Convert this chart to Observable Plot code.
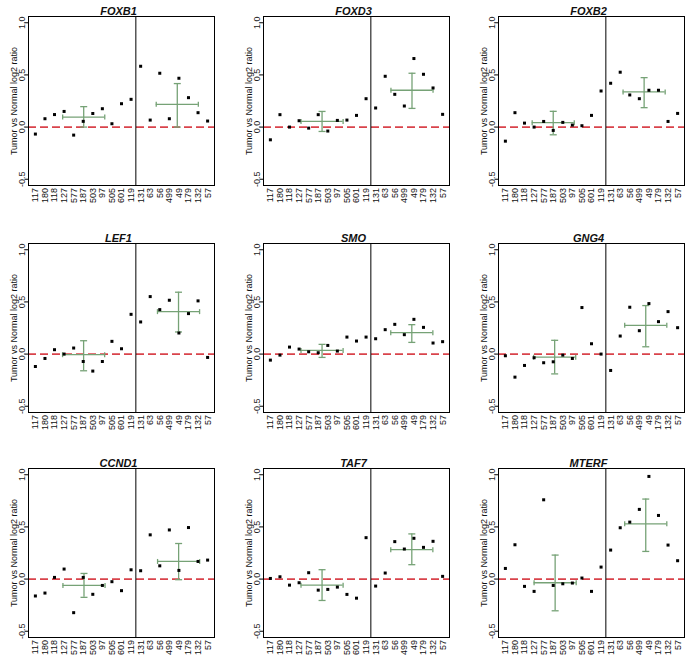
<!DOCTYPE html>
<html><head><meta charset="utf-8">
<script src="https://cdn.jsdelivr.net/npm/d3@7"></script>
<script src="https://cdn.jsdelivr.net/npm/@observablehq/plot@0.6"></script>
<style>
body{margin:0;background:#fff}
#root{position:relative;width:685px;height:661px;overflow:hidden}
.panel{position:absolute}
.panel svg{overflow:visible}
</style>
</head><body><div id="root"></div>
<script>
const samples = ["117","180","118","127","577","187","503","97","505","601","119","131","63","56","499","49","179","132","57"];
const genes = ["FOXB1","FOXD3","FOXB2","LEF1","SMO","GNG4","CCND1","TAF7","MTERF"];
const yTicks = [-0.5, 0, 0.5, 1.0];
const yTickLabels = ["-0.5", "0.0", "0.5", "1.0"];
const yTitle = "Tumor vs Normal log2 ratio";
const groupSplit = [11.5];

const FOXB1 = [-0.067,0.08,0.12,0.15,-0.077,0.055,0.13,0.176,0.032,0.224,0.266, 0.583,0.067,0.516,0.08,0.468,0.282,0.138,0.058];
const FOXD3 = [-0.122,0.119,0.0,0.061,-0.01,0.119,-0.038,0.064,0.067,0.112,0.272, 0.183,0.487,0.314,0.202,0.657,0.506,0.375,0.122];
const FOXB2 = [-0.135,0.138,0.038,0.0,0.054,-0.032,0.045,0.019,0.013,0.112,0.346, 0.42,0.526,0.308,0.272,0.353,0.353,0.054,0.131];
const LEF1 = [-0.119,-0.042,0.042,0.0,0.058,-0.071,-0.163,-0.071,0.122,0.051,0.381, 0.308,0.551,0.426,0.516,0.202,0.388,0.51,-0.032];
const SMO = [-0.058,-0.01,0.067,0.048,0.022,0.013,0.083,0.029,0.163,0.125,0.163, 0.147,0.234,0.285,0.186,0.333,0.256,0.106,0.119];
const GNG4 = [-0.016,-0.221,-0.109,-0.035,-0.083,-0.074,-0.01,-0.042,0.446,0.099,0.0, -0.157,0.173,0.449,0.224,0.484,0.311,0.407,0.253];
const CCND1 = [-0.162,-0.134,0.016,0.096,-0.322,0.016,-0.146,-0.061,-0.025,-0.111,0.089, 0.08,0.424,0.127,0.471,0.083,0.494,0.169,0.182];
const TAF7 = [0.006,0.022,-0.058,-0.035,0.061,-0.106,-0.099,-0.077,-0.147,-0.183,0.397, -0.067,0.058,0.359,0.288,0.391,0.304,0.362,0.026];
const MTERF = [0.102,0.329,-0.07,-0.118,0.76,-0.061,-0.045,-0.038,0.01,-0.118,0.115, 0.278,0.492,0.546,0.668,0.984,0.61,0.326,0.176];
const geneValues = [FOXB1, FOXD3, FOXB2, LEF1, SMO, GNG4, CCND1, TAF7, MTERF];

// summary bars, gene order as in genes
const normalMid = [0.096, 0.054, 0.042, -0.006, 0.035, -0.03, -0.061, -0.058, -0.035];
const normalLo  = [0.0, -0.042, -0.074, -0.16, -0.032, -0.19, -0.175, -0.205, -0.304];
const normalHi  = [0.196, 0.15, 0.151, 0.128, 0.093, 0.132, 0.054, 0.09, 0.23];
const tumorMid  = [0.218, 0.353, 0.337, 0.407, 0.205, 0.276, 0.169, 0.282, 0.53];
const tumorLo   = [0.0, 0.179, 0.186, 0.212, 0.112, 0.07, -0.006, 0.138, 0.265];
const tumorHi   = [0.417, 0.516, 0.474, 0.593, 0.282, 0.465, 0.341, 0.433, 0.767];
const normalBarX = [6.05, 6.4, 6.0, 6.04, 6.4, 6.15, 6.08, 6.4, 6.2];
const tumorBarX  = [15.83, 15.8, 15.5, 15.96, 15.78, 15.67, 15.97, 15.78, 15.67];
const barHalfSpan = 2.2;

const GREEN = "#76a276";
const RED = "#d9434b";
const FONT = "'Liberation Sans', Arial, Helvetica, sans-serif";

const hCap = {draw(c, s){const r = Math.sqrt(s/Math.PI); c.moveTo(-r,0); c.lineTo(r,0);}};
const vCap = {draw(c, s){const r = Math.sqrt(s/Math.PI); c.moveTo(0,-r); c.lineTo(0,r);}};

function panel(gene, vals, i) {
  const data = samples.map((s, j) => ({x: j + 1, y: vals[j], s}));
  const bars = [
    {x: normalBarX[i], mid: normalMid[i], lo: normalLo[i], hi: normalHi[i]},
    {x: tumorBarX[i], mid: tumorMid[i], lo: tumorLo[i], hi: tumorHi[i]}
  ];
  const ticks = yTicks.map((v, k) => ({v, label: yTickLabels[k]}));
  return Plot.plot({
    width: 215, height: 221,
    marginLeft: 28, marginRight: 1, marginTop: 16, marginBottom: 36,
    x: {domain: [0.28, 19.72], axis: null},
    y: {domain: [-0.56, 1.06]},
    style: {fontFamily: FONT, background: "white", color: "black"},
    marks: [
      Plot.ruleY([0], {stroke: RED, strokeWidth: 1.8, strokeDasharray: "8,4"}),
      Plot.ruleX(groupSplit, {stroke: "black", strokeWidth: 1}),
      Plot.ruleY(bars, {y: "mid", x1: d => d.x - barHalfSpan, x2: d => d.x + barHalfSpan, stroke: GREEN, strokeWidth: 1.3}),
      Plot.ruleX(bars, {x: "x", y1: "lo", y2: "hi", stroke: GREEN, strokeWidth: 1.3}),
      Plot.dot(bars, {x: "x", y: "lo", symbol: hCap, r: 3.5, stroke: GREEN, strokeWidth: 1.3, fill: "none"}),
      Plot.dot(bars, {x: "x", y: "hi", symbol: hCap, r: 3.5, stroke: GREEN, strokeWidth: 1.3, fill: "none"}),
      Plot.dot(bars, {x: d => d.x - barHalfSpan, y: "mid", symbol: vCap, r: 2.5, stroke: GREEN, strokeWidth: 1.3, fill: "none"}),
      Plot.dot(bars, {x: d => d.x + barHalfSpan, y: "mid", symbol: vCap, r: 2.5, stroke: GREEN, strokeWidth: 1.3, fill: "none"}),
      Plot.dot(data, {x: "x", y: "y", symbol: "square", r: 1.7, fill: "black"}),
      Plot.frame({stroke: "black", strokeWidth: 1}),
      Plot.axisY(yTicks, {tickSize: 3.5, tickFormat: () => "", label: null, stroke: "black"}),
      Plot.text(ticks, {x: () => 0.28, y: "v", text: "label", dx: -4, rotate: -90, textAnchor: "middle", lineAnchor: "bottom", fontSize: 9, fill: "#222"}),
      Plot.text([yTitle], {frameAnchor: "left", dx: -12, rotate: -90, textAnchor: "middle", lineAnchor: "bottom", fontSize: 9, fill: "#111"}),
      Plot.text(data, {x: "x", y: () => -0.56, text: "s", dy: 2.5, rotate: -90, textAnchor: "end", fontSize: 9, fill: "#111"}),
      Plot.text([gene], {frameAnchor: "top", dy: -9, dx: -3, fontSize: 11, fontWeight: "bold", fontStyle: "italic", fill: "#111"})
    ]
  });
}

const root = document.getElementById("root");
const colLeft = [0, 235, 470];
const rowTop = [0, 227, 452];
genes.forEach((g, i) => {
  const div = document.createElement("div");
  div.className = "panel";
  div.style.left = colLeft[i % 3] + "px";
  div.style.top = rowTop[Math.floor(i / 3)] + "px";
  div.appendChild(panel(g, geneValues[i], i));
  root.appendChild(div);
});
</script>
</body></html>
